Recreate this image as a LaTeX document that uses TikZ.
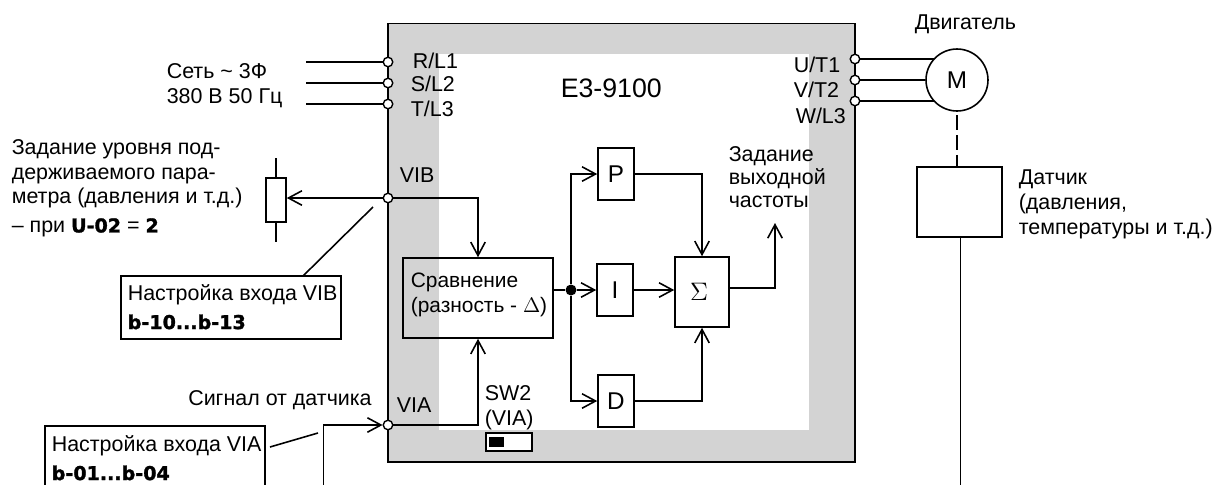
\documentclass[tikz,border=0pt]{standalone}
\usepackage{fontspec}
\setmainfont{Liberation Sans}
\usetikzlibrary{arrows.meta}
\definecolor{framegray}{HTML}{D3D3D3}
\newcommand{\boldcode}[1]{{\fontspec{DejaVu Sans Bold}[Scale=0.89,FakeBold=1.5]#1}}
\begin{document}
\begin{tikzpicture}[x=0.02cm,y=-0.02cm,line width=0.9pt,
          font=\fontsize{12.2}{14.2}\selectfont,
          label/.style={inner sep=0pt, anchor=west, align=left},
          bigtext/.style={font=\fontsize{13.8}{15}\selectfont},
          term/.style={draw, circle, fill=white, minimum size=0.19cm, inner sep=0pt, line width=0.8pt},
          pidbox/.style={draw, bigtext, minimum width=0.72cm, minimum height=1.04cm, inner sep=0pt},
          notebox/.style={draw, fill=white, minimum width=4.4cm, minimum height=1.26cm, inner sep=0pt},
          wire/.style={-{Straight Barb[length=0.27cm,width=0.29cm,line width=0.9pt]}}]
        \clip (0,0) rectangle (1215,484);
        \fill[framegray] (388,23.5) rectangle (855,462);
        \fill[white] (439,54) rectangle (809,430);
        \draw (388,23.5) rectangle (855,462);
        % left terminals
        \foreach \tname/\tx/\ty in {rin/306/62,sin/306/83,tin/306/104} {
          \coordinate (\tname end) at (\tx,\ty);
          \node[term] (\tname) at (388,\ty) {};
          \draw (\tname end) -- (\tname);
        }
        \node[label] (rlab) at (412,61) {R/L1};
        \node[label] (slab) at (410,84) {S/L2};
        \node[label] (tlab) at (410,109) {T/L3};
        \node[label] (mains) at (166,85.5) {Сеть \textasciitilde{} 3Ф\\380 В 50 Гц};
        \node[label] (title) at (560,88) {\fontsize{15.2}{16}\selectfont Е3-9100};
        % setpoint input
        \node[term] (vib) at (388,198) {};
        \node[label] (viblab) at (399,175) {VIB};
        \node[draw, minimum width=0.4cm, minimum height=0.88cm, inner sep=0pt] (res) at (276,200) {};
        \coordinate (restop) at (276,158);
        \coordinate (resbot) at (276,242);
        \draw (restop) -- (res.north) (res.south) -- (resbot);
        \draw[wire] (vib) -- (vib -| res.east);
        \node[label] (settext) at (11,188) {Задание уровня под-\\держиваемого пара-\\метра (давления и т.д.)\\[2pt]– при \boldcode{U-02} = \boldcode{2}};
        \node[notebox] (vibnote) at (231,307.5) {};
        \node[label] (vibnotetext) at (127,307) {Настройка входа VIB\\[2pt]\boldcode{b-10...b-13}};
        \coordinate (vibtick) at (373,207);
        \coordinate (vibfoot) at (303,276);
        \draw (vibtick) -- (vibfoot);
        % comparator
        \node[draw, minimum width=2.99cm, minimum height=1.6cm, inner sep=0pt] (cmp) at (478,298) {};
        \node[label, font=\fontsize{11.9}{14.2}\selectfont] (cmptext) at (410,294.5) {Сравнение\\(разность - $\Delta$)};
        \draw[wire] (vib) -| (cmp.north);
        % sensor input
        \node[term] (via) at (388,425) {};
        \node[label] (vialab) at (396,405) {VIA};
        \node[label] (sensig) at (187.5,400) {Сигнал от датчика};
        \coordinate (viafoot) at (323.6,490);
        \draw[wire] (viafoot) |- (via);
        \draw[wire] (via) -| (cmp.south);
        \node[notebox] (vianote) at (155,457.5) {};
        \node[label] (vianotetext) at (51,458) {Настройка входа VIA\\[2pt]\boldcode{b-01...b-04}};
        \coordinate (viatick) at (270,447);
        \coordinate (viahead) at (318,433);
        \draw (viatick) -- (viahead);
        \node[label] (swlab) at (484,408) {SW2\\(VIA)};
        \node[draw, line width=1.1pt, fill=white, minimum width=0.92cm, minimum height=0.36cm, inner sep=0pt] (swbox) at (509,442) {};
        \node[fill=black, minimum width=0.3cm, minimum height=0.2cm, inner sep=0pt] (swknob) at (496.5,442) {};
        % regulator
        \node[pidbox] (pbox) at (616,174) {P};
        \node[pidbox] (ibox) at (615,290) {I};
        \node[pidbox] (dbox) at (616,401) {D};
        \node[draw, minimum width=1.08cm, minimum height=1.4cm, inner sep=0pt, font=\fontsize{15}{16}\selectfont] (sumbox) at (702,292) {\hspace*{-0.12cm}$\Sigma$};
        \node[circle, fill=black, minimum size=0.22cm, inner sep=0pt] (dot) at (571,290) {};
        \draw (dot -| cmp.east) -- (dot);
        \draw[wire] (dot) |- (pbox.west);
        \draw[wire] (dot) -- (ibox.west);
        \draw[wire] (dot) |- (dbox.west);
        \draw[wire] (pbox.east) -| (sumbox.north);
        \draw[wire] (ibox.east) -- (ibox.east -| sumbox.west);
        \draw[wire] (dbox.east) -| (sumbox.south);
        \coordinate (sumout) at (729,288);
        \coordinate (freqtip) at (775,223);
        \draw[wire] (sumout) -| (freqtip);
        \node[label, font=\fontsize{12.2}{12.9}\selectfont] (freqtext) at (728,177) {Задание\\выходной\\частоты};
        % motor side
        \node[draw, bigtext, circle, minimum size=1.24cm, inner sep=0pt] (motor) at (957,80) {M};
        \foreach \tname/\ty/\tang in {ut/59/137,vt/80/180,wt/101/223} {
          \node[term] (\tname) at (855,\ty) {};
          \draw (\tname) -- (\tname -| motor.\tang);
        }
        \node[label] (ulab) at (793,65) {U/T1};
        \node[label] (vlab) at (793,90) {V/T2};
        \node[label] (wlab) at (795,116) {W/L3};
        \node[label] (motorlab) at (914,24) {Двигатель};
        \node[draw, minimum width=1.7cm, minimum height=1.4cm, inner sep=0pt] (sensor) at (959.5,202) {};
        \coordinate (dashtop) at (957,115);
        \draw[dash pattern=on 0.3cm off 0.1cm] (dashtop) -- (dashtop |- sensor.north);
        \coordinate (sensorfoot) at (960.5,490);
        \draw (sensorfoot |- sensor.south) -- (sensorfoot);
        \node[label] (sensortext) at (1018,204) {Датчик\\(давления,\\температуры и т.д.)};
      \end{tikzpicture}
\end{document}
